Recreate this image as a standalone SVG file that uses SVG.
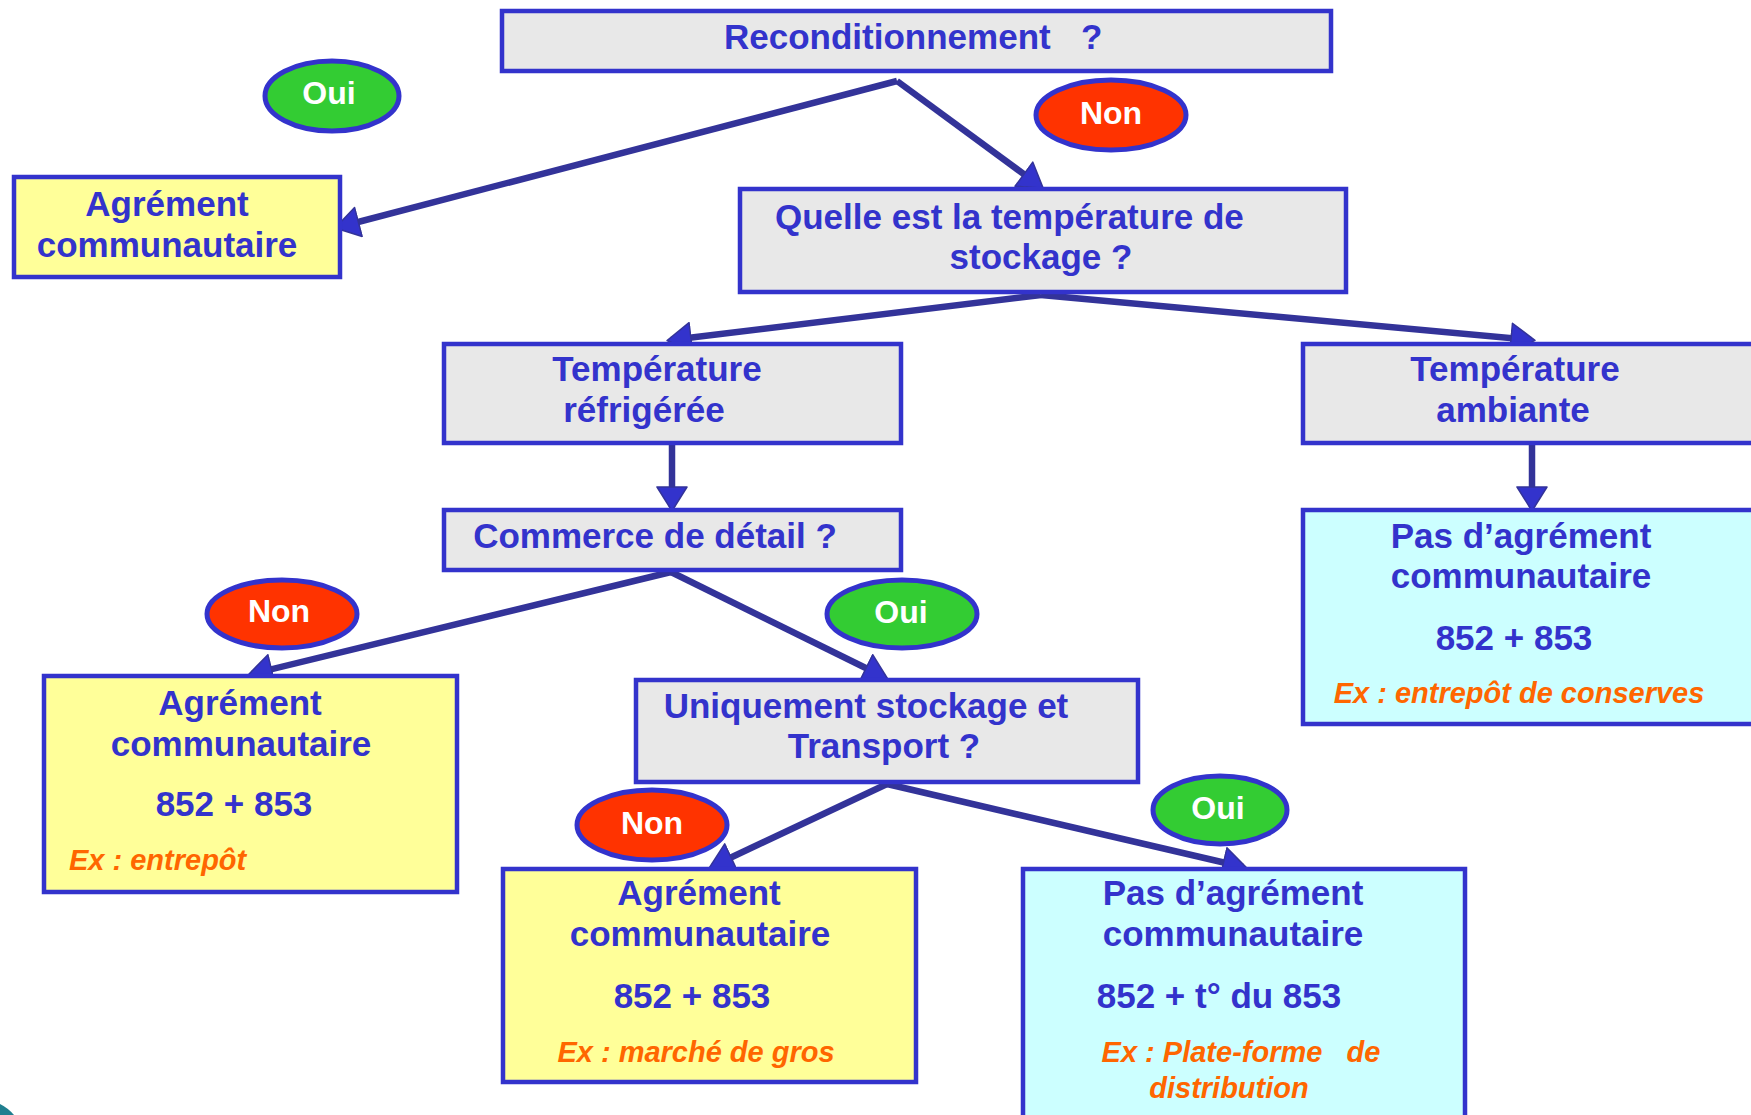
<svg xmlns="http://www.w3.org/2000/svg" width="1751" height="1115" viewBox="0 0 1751 1115">
<style>
text{font-family:"Liberation Sans",Arial,sans-serif;font-weight:bold;}
.t{fill:#3333CC;font-size:35px;text-anchor:middle;}
.ts{fill:#3333CC;font-size:35px;}
.ex{fill:#FF6600;font-size:29px;font-style:italic;text-anchor:middle;}
.lab{fill:#FFFFFF;font-size:32px;text-anchor:middle;}
.grey{fill:#E8E8E8;stroke:#3333CC;stroke-width:4.5;}
.yel{fill:#FFFF99;stroke:#3333CC;stroke-width:4.5;}
.cyan{fill:#CCFFFF;stroke:#3333CC;stroke-width:4.5;}
.oui{fill:#33CC33;stroke:#3333CC;stroke-width:5;}
.non{fill:#FF3300;stroke:#3333CC;stroke-width:5;}
.c{fill:none;stroke:#333399;stroke-width:6.5;stroke-linejoin:round;marker-end:url(#ah);}
</style>
<defs>
<marker id="ah" markerUnits="userSpaceOnUse" viewBox="0 0 26 32" refX="21" refY="16" markerWidth="26" markerHeight="32" orient="auto">
<path d="M1,1 L25,16 L1,31 Z" fill="#3333CC" stroke="#333399" stroke-width="1.5" stroke-linejoin="round"/>
</marker>
</defs>
<rect width="1751" height="1115" fill="#FFFFFF"/>
<path d="M0,1104 Q8,1108 14,1115 L0,1115 Z" fill="#1F7F8F"/>

<g id="connectors">
<path class="c" d="M897,81 L339,227"/>
<path class="c" d="M897,81 L1040,186"/>
<path class="c" d="M1041,295 L671,340"/>
<path class="c" d="M1041,295 L1531,340"/>
<path class="c" d="M672,444 L672,507"/>
<path class="c" d="M1532,444 L1532,507"/>
<path class="c" d="M671,572 L252,674"/>
<path class="c" d="M671,572 L884,677"/>
<path class="c" d="M887,784 L713,866"/>
<path class="c" d="M887,784 L1243,867"/>
</g>

<g id="n-recond">
<rect class="grey" x="502" y="11" width="829" height="60"/>
<text class="ts" x="724" y="49" style="white-space:pre">Reconditionnement<tspan x="1081">?</tspan></text>
</g>

<g id="n-agrement-top">
<rect class="yel" x="14" y="177" width="326" height="100"/>
<text class="t" x="167" y="216">Agrément</text>
<text class="t" x="167" y="257">communautaire</text>
</g>

<g id="n-quelle">
<rect class="grey" x="740" y="189" width="606" height="103"/>
<text class="ts" x="775" y="229">Quelle est la température de</text>
<text class="t" x="1041" y="269">stockage ?</text>
</g>

<g id="n-refrig">
<rect class="grey" x="444" y="344" width="457" height="99"/>
<text class="t" x="657" y="381">Température</text>
<text class="t" x="644" y="422">réfrigérée</text>
</g>

<g id="n-ambiante">
<rect class="grey" x="1303" y="344" width="460" height="99"/>
<text class="t" x="1515" y="381">Température</text>
<text class="t" x="1513" y="422">ambiante</text>
</g>

<g id="n-commerce">
<rect class="grey" x="444" y="510" width="457" height="60"/>
<text class="t" x="655" y="548">Commerce de détail ?</text>
</g>

<g id="n-pas-ambiante">
<rect class="cyan" x="1303" y="510" width="460" height="214"/>
<text class="t" x="1521" y="548">Pas d’agrément</text>
<text class="t" x="1521" y="588">communautaire</text>
<text class="t" x="1514" y="650">852 + 853</text>
<text class="ex" x="1519" y="703">Ex : entrepôt de conserves</text>
</g>

<g id="n-agrement-left">
<rect class="yel" x="44" y="676" width="413" height="216"/>
<text class="t" x="240" y="715">Agrément</text>
<text class="t" x="241" y="756">communautaire</text>
<text class="t" x="234" y="816">852 + 853</text>
<text class="ex" x="69" y="870" style="text-anchor:start">Ex : entrepôt</text>
</g>

<g id="n-uniquement">
<rect class="grey" x="636" y="680" width="502" height="102"/>
<text class="t" x="866" y="718">Uniquement stockage et</text>
<text class="t" x="884" y="758">Transport ?</text>
</g>

<g id="n-agrement-bottom">
<rect class="yel" x="503" y="869" width="413" height="213"/>
<text class="t" x="699" y="905">Agrément</text>
<text class="t" x="700" y="946">communautaire</text>
<text class="t" x="692" y="1008">852 + 853</text>
<text class="ex" x="696" y="1062">Ex : marché de gros</text>
</g>

<g id="n-pas-bottom">
<rect class="cyan" x="1023" y="869" width="442" height="260"/>
<text class="t" x="1233" y="905">Pas d’agrément</text>
<text class="t" x="1233" y="946">communautaire</text>
<text class="t" x="1219" y="1008">852 + t° du 853</text>
<text class="ex" x="1241" y="1062" style="white-space:pre">Ex : Plate-forme   de</text>
<text class="ex" x="1229" y="1098">distribution</text>
</g>

<g id="l-oui-1">
<ellipse class="oui" cx="332" cy="96" rx="67" ry="35"/>
<text class="lab" x="329" y="104">Oui</text>
</g>
<g id="l-non-1">
<ellipse class="non" cx="1111" cy="115" rx="75" ry="35"/>
<text class="lab" x="1111" y="124">Non</text>
</g>
<g id="l-non-2">
<ellipse class="non" cx="282" cy="614" rx="75" ry="34"/>
<text class="lab" x="279" y="622">Non</text>
</g>
<g id="l-oui-2">
<ellipse class="oui" cx="902" cy="614" rx="75" ry="34"/>
<text class="lab" x="901" y="623">Oui</text>
</g>
<g id="l-non-3">
<ellipse class="non" cx="652" cy="825" rx="75" ry="35"/>
<text class="lab" x="652" y="834">Non</text>
</g>
<g id="l-oui-3">
<ellipse class="oui" cx="1220" cy="810" rx="67" ry="34"/>
<text class="lab" x="1218" y="819">Oui</text>
</g>
</svg>
